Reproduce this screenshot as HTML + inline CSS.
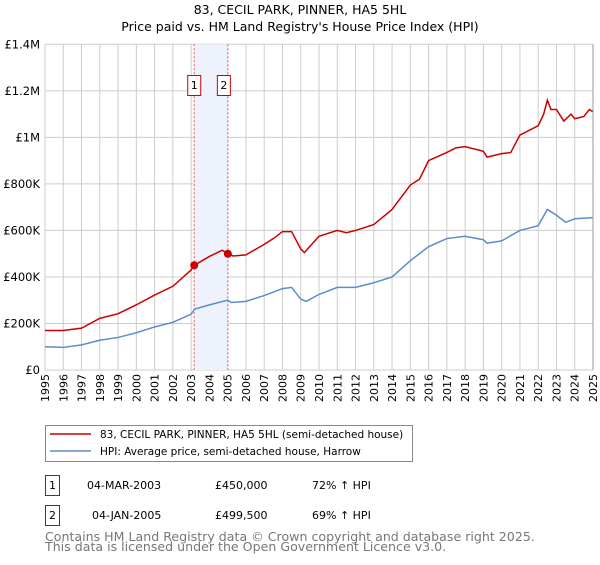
<!DOCTYPE html>
<html><head><meta charset="utf-8"><style>
body{margin:0;background:#fff;}
svg text{font-family:"DejaVu Sans","Liberation Sans",sans-serif;}
</style></head><body>
<svg id="chart" width="600" height="560" viewBox="0 0 600 560" xmlns="http://www.w3.org/2000/svg">
<text x="300" y="14" text-anchor="middle" font-size="12.5">83, CECIL PARK, PINNER, HA5 5HL</text>
<text x="300" y="31" text-anchor="middle" font-size="12.5">Price paid vs. HM Land Registry's House Price Index (HPI)</text>
<g id="grid"></g>
<g id="marks"></g>
<g id="series"></g>
<g id="axes"></g>
<rect x="45.5" y="425.5" width="367" height="36" fill="#fff" stroke="#888"/>
<line x1="50" y1="434" x2="91" y2="434" stroke="#cc0000" stroke-width="1.5"/>
<text x="100" y="438" font-size="10.5">83, CECIL PARK, PINNER, HA5 5HL (semi-detached house)</text>
<line x1="50" y1="451" x2="91" y2="451" stroke="#5b8bd0" stroke-width="1.5"/>
<text x="100" y="455" font-size="10.5">HPI: Average price, semi-detached house, Harrow</text>
<g font-size="11">
<rect x="45.5" y="475.5" width="14" height="20" fill="#fff" stroke="#cc0000"/>
<text x="52.5" y="489" text-anchor="middle">1</text>
<text x="87" y="489">04-MAR-2003</text>
<text x="215" y="489">£450,000</text>
<text x="312" y="489">72% ↑ HPI</text>
</g>
<g font-size="11">
<rect x="45.5" y="505.5" width="14" height="20" fill="#fff" stroke="#cc0000"/>
<text x="52.5" y="519" text-anchor="middle">2</text>
<text x="92" y="519">04-JAN-2005</text>
<text x="215" y="519">£499,500</text>
<text x="312" y="519">69% ↑ HPI</text>
</g>
<text x="45" y="541" font-size="12.6" fill="#777">Contains HM Land Registry data © Crown copyright and database right 2025.</text>
<text x="45" y="551" font-size="12.6" fill="#777">This data is licensed under the Open Government Licence v3.0.</text>
</svg>
<script>
const yearTicks=[1995,1996,1997,1998,1999,2000,2001,2002,2003,2004,2005,2006,2007,2008,2009,2010,2011,2012,2013,2014,2015,2016,2017,2018,2019,2020,2021,2022,2023,2024,2025];
const valueTicks=[0,200000,400000,600000,800000,1000000,1200000,1400000];
const valueTickLabels=["£0","£200K","£400K","£600K","£800K","£1M","£1.2M","£1.4M"];
const hpiDates=[1995,1996,1997,1998,1999,2000,2001,2002,2003,2003.2,2004,2005,2005.2,2006,2007,2008,2008.5,2009,2009.3,2010,2011,2012,2013,2014,2015,2016,2017,2018,2019,2019.2,2020,2021,2022,2022.5,2023,2023.5,2024,2025];
const hpiValues=[100,97,108,128,140,160,185,205,240,262,280,300,290,295,320,350,355,305,295,325,355,355,375,400,470,530,565,575,560,545,555,600,620,690,665,635,650,655];
const propDates=[1995,1996,1997,1998,1999,2000,2001,2002,2003,2003.17,2004,2004.7,2005,2005.3,2006,2007,2007.5,2008,2008.5,2009,2009.2,2010,2011,2011.5,2012,2013,2014,2015,2015.5,2016,2017,2017.5,2018,2019,2019.2,2020,2020.5,2021,2022,2022.3,2022.5,2022.7,2023,2023.4,2023.8,2024,2024.5,2024.8,2025];
const propValues=[170,170,180,222,242,280,322,360,430,450,488,515,499.5,490,495,540,565,595,595,520,505,575,600,590,600,625,690,795,820,900,935,955,960,940,915,930,935,1010,1050,1100,1160,1120,1120,1070,1100,1080,1090,1120,1110];
const saleDates=[2003.17,2005.01];
const saleValues=[450000,499500];
const saleLabels=["1","2"];
const X0=45,X1=593,Y0=370,Y1=44.3;
const xs=t=>X0+(t-1995)/30*(X1-X0);
const ys=v=>Y0-v/1400000*(Y0-Y1);
const NS="http://www.w3.org/2000/svg";
function mk(tag,attrs,parent){const e=document.createElementNS(NS,tag);for(const k in attrs)e.setAttribute(k,attrs[k]);parent.appendChild(e);return e;}
const grid=document.getElementById('grid'),axes=document.getElementById('axes'),marks=document.getElementById('marks'),series=document.getElementById('series');
const band=mk('rect',{x:xs(saleDates[0]),y:Y1,width:xs(saleDates[1])-xs(saleDates[0]),height:Y0-Y1,fill:'#eef2fc'},marks);


yearTicks.forEach(y=>{
 const l=mk('line',{x1:xs(y),x2:xs(y),y1:Y1,y2:Y0,stroke:'#ccc','stroke-width':1},grid);
 
 
 const t=mk('text',{transform:`translate(${xs(y)+4},${Y0+4}) rotate(-90)`,'text-anchor':'end','font-size':11},axes);
 t.textContent=y;
 
 
});
valueTicks.forEach((v,i)=>{
 const l=mk('line',{x1:X0,x2:X1,y1:ys(v),y2:ys(v),stroke:'#ccc','stroke-width':1},grid);
 
 
 const t=mk('text',{x:X0-5,y:ys(v)+4,'text-anchor':'end','font-size':11.5},axes);
 t.textContent=valueTickLabels[i];
 
 
});
saleDates.forEach((d,i)=>{
 const l=mk('line',{x1:xs(d),x2:xs(d),y1:Y1,y2:Y0,stroke:'#ee5555','stroke-dasharray':'2,2','stroke-width':1},marks);
 
 
 const off=i==0?-6:-10;
 const r=mk('rect',{x:xs(d)+off-0.5,y:75.5,width:13,height:20,fill:'#fff',stroke:'#cc0000'},marks);
 
 
 const t=mk('text',{x:xs(d)+off+6,y:89,'text-anchor':'middle','font-size':11},marks);
 t.textContent=saleLabels[i];
 
 
});
const hp=mk('polyline',{points:hpiDates.map((d,i)=>xs(d)+','+ys(hpiValues[i]*1000)).join(' '),fill:'none',stroke:'#5b8bd0','stroke-width':1.5},series);


const pp=mk('polyline',{points:propDates.map((d,i)=>xs(d)+','+ys(propValues[i]*1000)).join(' '),fill:'none',stroke:'#cc0000','stroke-width':1.5},series);


saleDates.forEach((d,i)=>{
 const c=mk('circle',{cx:xs(d),cy:ys(saleValues[i]),r:4,fill:'#cc0000'},series);
 
 
});
const ax=mk('line',{x1:X1,x2:X1,y1:Y1,y2:Y0,stroke:'#999','stroke-width':1},axes);


</script>
</body></html>
